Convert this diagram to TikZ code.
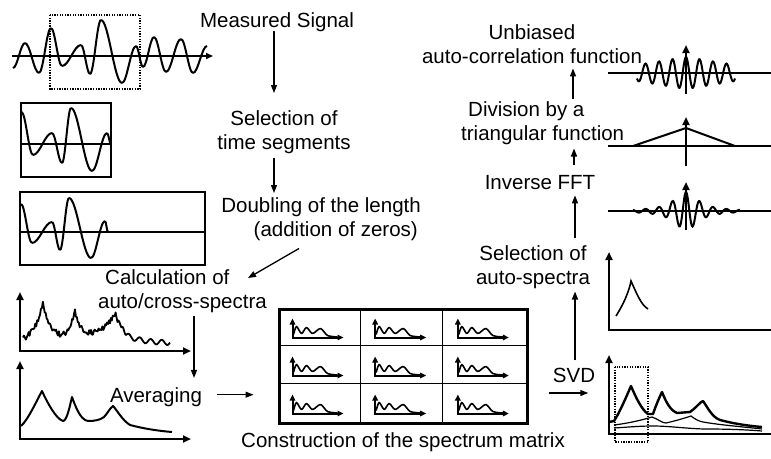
\documentclass[tikz,border=0pt]{standalone}
\usepackage{fontspec}
\setmainfont{Liberation Sans}
\usetikzlibrary{arrows.meta,calc}
\newcommand\cwave[2]{%
  \foreach \xx/\yy [remember=\xx as \px (initially 0), remember=\yy as \py (initially 0), count=\ci] in {#2}{%
    \ifnum\ci>1
      \draw[#1] (\px,\py) .. controls ({\px+0.3642*(\xx-\px)},\py) and ({\xx-0.3642*(\xx-\px)},\yy) .. (\xx,\yy);
    \fi}}
\begin{document}
\begin{tikzpicture}[x=1pt,y=-1pt,
  lbl/.style={font=\fontsize{20.5}{24}\selectfont, inner sep=0pt},
  conn/.style={line width=1.3pt, -{Triangle[length=8pt,width=6pt]}},
  axline/.style={line width=2.2pt},
  axisarr/.style={line width=2.2pt, -{Triangle[length=8pt,width=7pt]}},
  both/.style={line width=2.2pt, {Triangle[length=8pt,width=7pt]}-{Triangle[length=8pt,width=7pt]}},
  sig/.style={line width=2pt},
  dotbox/.style={line width=1.2pt, dash pattern=on 1.3pt off 1.3pt},
  declare function={
    nb(\t)=8+7*exp(0-((\t-100)/20)^2)+40*exp(0-abs(\t-43)/9)+30*exp(0-abs(\t-75)/6)+26*exp(0-abs(\t-115)/10);
    tl(\t)=8+8*exp(0-(\t-126)/15)+2.5*sin((\t-126)/11*360);
  },
  icon/.pic={
    \draw[line width=2pt, {Triangle[length=6pt,width=5.5pt]}-{Triangle[length=6pt,width=5.5pt]}] (15,11) -- (15,30) -- (66,30);
    \draw[line width=1.6pt, line join=round] plot[smooth, tension=0.5] coordinates {(16,27) (19,19) (24,26) (29,20) (35,26) (43,21) (50,28) (60,29.5)};
  }]
\useasboundingbox (0,0) rectangle (771,458);

% ---------- texts ----------
\node[lbl, anchor=base] (msig) at (277,27) {Measured Signal};
\node[lbl, anchor=north, align=center] (seg) at (284,110) {Selection of\\time segments};
\node[lbl, anchor=north east, align=right] (dbl) at (421,197) {Doubling of the length\\(addition of zeros)\hspace*{3pt}};
\node[lbl, anchor=north west, align=left] (calc) at (98,269) {\hspace*{7pt}Calculation of\\auto/cross-spectra};
\node[lbl, anchor=base] (avg) at (156,402) {Averaging};
\node[lbl, anchor=base] (cons) at (403,447) {Construction of the spectrum matrix};
\node[lbl, anchor=north, align=center] (unb) at (532,24) {Unbiased\\auto-correlation function};
\node[lbl, anchor=north west, align=left] (div) at (461,101) {\hspace*{7pt}Division by a\\triangular function};
\node[lbl, anchor=base] (ifft) at (540,189) {Inverse FFT};
\node[lbl, anchor=north, align=center] (sela) at (533,245) {Selection of\\auto-spectra};
\node[lbl, anchor=base] (svd) at (574,382) {SVD};

% ---------- matrix ----------
\node[draw, line width=3pt, minimum width=248pt, minimum height=114pt, inner sep=0pt] (mat) at (403,366) {};
\foreach \i in {1,2} {
  \draw[line width=1pt] ($(mat.north west)+({82.67*\i},0)$) -- ($(mat.south west)+({82.67*\i},0)$);
  \draw[line width=1pt] ($(mat.north west)+(0,{38*\i})$) -- ($(mat.north east)+(0,{38*\i})$);
}
\foreach \i in {0,1,2} \foreach \j in {0,1,2}
  \pic at ($(mat.north west)+({82.67*\i},{38*\j})$) {icon};

% ---------- connectors ----------
\draw[conn] ($(msig.south)+(-3,0)$) -- ($(seg.north)+(-10,-17)$);
\coordinate (c0) at ($(seg.south)+(-10,4)$);
\draw[conn] (c0) -- ($(dbl.north -| c0)+(0,-4)$);
\draw[conn] ($(dbl.south east)+(-122,8)$) -- ($(calc.north west)+(150,9)$);
\coordinate (c1) at ($(calc.south west)+(96,3)$);
\draw[conn] (c1) -- ($(avg.north -| c1)+(0,-9)$);
\coordinate (c2) at ($(avg.east)+(15,-2)$);
\draw[conn] (c2) -- ($(mat.west |- c2)+(-24,0)$);
\coordinate (c3) at ($(mat.east)+(20,27)$);
\draw[conn] (c3) -- ($(c3 -| svd.east)+(-7,0)$);
\coordinate (c4) at ($(svd.north)+(1,-7)$);
\draw[conn] (c4) -- ($(sela.south -| c4)+(0,3)$);
\coordinate (c5) at ($(sela.north)+(42,-7)$);
\draw[conn] (c5) -- ($(ifft.south -| c5)+(0,6)$);
\coordinate (c6) at ($(ifft.north)+(34,-10)$);
\draw[conn] (c6) -- ($(div.south -| c6)+(0,4)$);
\coordinate (c7) at ($(div.north west)+(112,-2)$);
\draw[conn] (c7) -- ($(unb.south -| c7)+(0,5)$);

% ---------- measured signal ----------
\draw[dotbox] (50,15) rectangle (140,89);
\draw[line width=1.8pt, -{Triangle[length=7pt,width=6pt]}] (12,56) -- (213,56);
\cwave{sig}{13/68,25/43,39/73,51/28,62/66,81/45,90/74,101/20,122/83,136/46,143/67,154/37,166/72,181/39,193/73,207/46}

% ---------- segment ----------
\draw[line width=2pt] (21,103) rectangle (111,177);
\draw[line width=2pt] (21,144) -- (111,144);
\cwave{sig}{21.5/112,33/155,52/133,62/163,71/108,92/171,107/133,111/144}

% ---------- zero padded segment ----------
\draw[line width=2pt] (20,192) rectangle (205,265);
\draw[line width=2pt] (20,232) -- (205,232);
\cwave{sig}{21/204,32/243,52/222,60/250,69/198,91/258,105/221,108/232}

% ---------- noisy spectrum ----------
\pgfmathsetseed{12}
\draw[both] (20,292) -- (20,351) -- (191,351);
\draw[line width=1.8pt, line join=round] plot[domain=23:126, samples=110, variable=\t] (\t,{351-nb(\t)-2.8*rand}) -- plot[domain=126:170, samples=45, variable=\t] (\t,{351-tl(\t)});

% ---------- averaged spectrum ----------
\draw[both] (20,361) -- (20,439) -- (191,439);
\draw[line width=2pt, line join=round] (21,426) .. controls (28,420) and (37,400) .. (42,391)
  .. controls (47,402) and (56,419) .. (63,421)
  .. controls (67,421) and (70,405) .. (72,397)
  .. controls (75,405) and (80,420) .. (88,421)
  .. controls (95,421) and (100,420) .. (104,417)
  .. controls (107,414) and (110,408) .. (113,406)
  .. controls (117,410) and (122,420) .. (130,425)
  .. controls (145,429) and (160,431) .. (172,432);

% ---------- unbiased autocorrelation ----------
\draw[axline] (608,73) -- (775,73);
\draw[axisarr] (686,94) -- (686,45);
\draw[sig] plot[domain=637:735, samples=160, variable=\t] (\t,{73-(16-8*abs(\t-686)/49)*cos((\t-686)/13.5*360)});

% ---------- triangular function ----------
\draw[axline] (608,146) -- (775,146);
\draw[axisarr] (686,166) -- (686,117);
\draw[sig] (633,146) -- (686,128) -- (735,146);

% ---------- inverse FFT result ----------
\draw[axline] (608,211) -- (775,211);
\draw[axisarr] (686,230) -- (686,182);
\draw[sig] plot[domain=633:740, samples=170, variable=\t] (\t,{211-19/(1+((\t-686)/14)^2)*cos((\t-686)/13.5*360)});

% ---------- selected auto-spectrum ----------
\draw[axline, {Triangle[length=8pt,width=7pt]}-] (609,252) -- (609,330) -- (775,330);
\draw[line width=1.6pt] (616,316) .. controls (623,305) and (629,292) .. (631,281)
  .. controls (636,292) and (641,305) .. (648,309);

% ---------- SVD result ----------
\draw[axline, {Triangle[length=8pt,width=7pt]}-] (609,355) -- (609,434) -- (775,434);
\draw[dotbox] (615,367) rectangle (648,442);
\draw[line width=2.4pt, line join=round] (609,422) -- (614,421) .. controls (620,412) and (627,395) .. (631,386)
  .. controls (636,398) and (642,410) .. (648,414) -- (653,414)
  .. controls (656,405) and (660,396) .. (662,392)
  .. controls (666,402) and (670,410) .. (677,413) -- (690,412)
  .. controls (696,408) and (700,402) .. (703,401)
  .. controls (708,408) and (712,417) .. (720,420)
  .. controls (735,424) and (750,426) .. (762,427);
\draw[line width=1.2pt] (614,425) .. controls (630,423) and (642,420) .. (652,417)
  .. controls (658,419) and (662,423) .. (666,423)
  .. controls (675,421) and (685,418) .. (691,416)
  .. controls (695,419) and (698,421) .. (703,422)
  .. controls (720,425) and (745,427) .. (762,429);
\draw[line width=1.2pt] (614,428) .. controls (630,427) and (640,426) .. (653,426)
  .. controls (670,426) and (690,429) .. (707,429)
  .. controls (730,429) and (750,430) .. (762,431);
\end{tikzpicture}
\end{document}
